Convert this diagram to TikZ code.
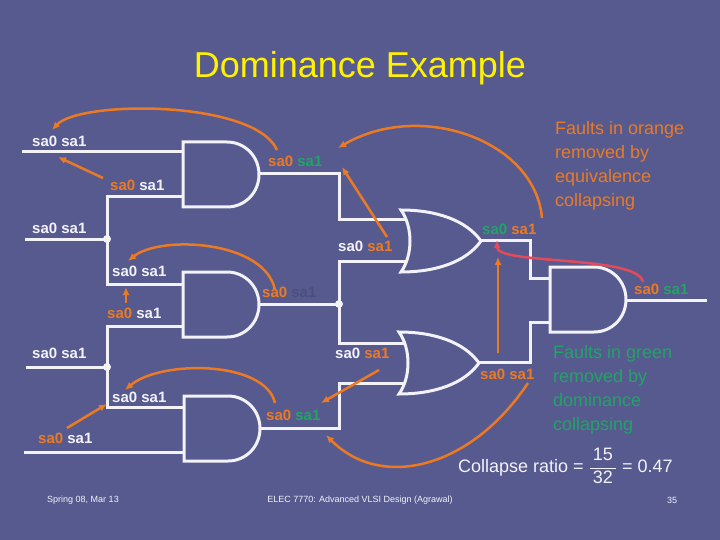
\documentclass[tikz,border=0pt]{standalone}
\usepackage{fontspec}
\setmainfont{Liberation Sans}
\usetikzlibrary{arrows.meta}
\definecolor{bg}{HTML}{575A8F}
\definecolor{org}{HTML}{EC7A22}
\definecolor{grn}{HTML}{1FA564}
\definecolor{dk}{HTML}{4C4E7E}
\definecolor{wire}{HTML}{F2F2F8}
\definecolor{rd}{HTML}{E34A5A}
\newcommand\andgate[2]{\path[gate,shift={(#1,#2)}] (0,0) -- (44,0) .. controls (62,0) and (76,14.5) .. (76,32.5) .. controls (76,50.5) and (62,65) .. (44,65) -- (0,65) -- cycle;}
\newcommand\orgate[2]{\path[gate,shift={(#1,#2)}] (0,0) .. controls (35,0) and (65,10) .. (80,31) .. controls (65,52) and (35,62) .. (0,62) .. controls (12,45) and (12,17) .. (0,0) -- cycle;}
\begin{document}
\begin{tikzpicture}[x=1pt,y=-1pt,
  wr/.style={wire,line width=3pt},
  ar/.style={org,line width=2.5pt,-{Latex[length=8pt,width=7pt]}},
  lab/.style={anchor=west,inner sep=0pt,font=\fontsize{15}{15}\selectfont\bfseries},
  gate/.style={draw=wire,line width=3pt,fill=bg}
]
\fill[bg] (0,0) rectangle (720,540);
\useasboundingbox (0,0) rectangle (720,540);
\node[yellow,font=\fontsize{36}{36}\selectfont] (title) at (360,68) {Dominance Example};
% wires
\draw[wr] (22,152)--(183,152);
\draw[wr] (25,239)--(107,239);
\draw[wr] (183,197)--(107,197)--(107,284)--(183,284);
\draw[wr] (26,367)--(107,367);
\draw[wr] (183,326)--(107,326)--(107,407)--(184,407);
\draw[wr] (24,452)--(184,452);
\draw[wr] (258,174)--(339,174)--(339,220)--(410,220);
\draw[wr] (258,304)--(339,304);
\draw[wr] (410,261)--(339,261)--(339,343)--(410,343);
\draw[wr] (259,428)--(339,428)--(339,383)--(410,383);
\draw[wr] (480,240)--(530,240)--(530,278)--(549,278);
\draw[wr] (477,362)--(530,362)--(530,322)--(549,322);
\draw[wr] (627,300)--(707,300);
\fill[wire] (107,239) circle (4) (107,367) circle (4) (339,304) circle (4);
% gates
\andgate{183}{142}
\andgate{183}{272}
\andgate{184}{396}
\andgate{550}{267}
\orgate{401}{210}
\orgate{399}{332}
% labels
\node[lab] (l1) at (32,141) {\color{wire}sa0 sa1};
\node[lab] (l2) at (110,185) {\color{org}sa0 \color{wire}sa1};
\node[lab] (l3) at (268,161) {\color{org}sa0 \color{grn}sa1};
\node[lab] (l4) at (32,228) {\color{wire}sa0 sa1};
\node[lab] (l5) at (112,271) {\color{wire}sa0 sa1};
\node[lab] (l6) at (107,313) {\color{org}sa0 \color{wire}sa1};
\node[lab] (l7) at (262,292) {\color{org}sa0 \color{dk}sa1};
\node[lab] (l8) at (338,246) {\color{wire}sa0 \color{org}sa1};
\node[lab] (l9) at (482,229) {\color{grn}sa0 \color{org}sa1};
\node[lab] (l10) at (634,289) {\color{org}sa0 \color{grn}sa1};
\node[lab] (l11) at (32,353) {\color{wire}sa0 sa1};
\node[lab] (l12) at (112,397) {\color{wire}sa0 sa1};
\node[lab] (l13) at (38,438) {\color{org}sa0 \color{wire}sa1};
\node[lab] (l14) at (266,415) {\color{org}sa0 \color{grn}sa1};
\node[lab] (l15) at (335,353) {\color{wire}sa0 \color{org}sa1};
\node[lab] (l16) at (480,374) {\color{org}sa0 sa1};
% arrows
\draw[ar] (277,150) .. controls (255,100) and (80,100) .. (52,130);
\draw[ar] (103,178) -- (58,157);
\draw[ar] (542,218) .. controls (535,140) and (420,100) .. (338,148);
\draw[ar] (387,237) -- (342,167);
\draw[ar] (275,290) .. controls (265,240) and (160,235) .. (128,261);
\draw[ar] (126,303) -- (126,287);
\draw[ar] (275,403) .. controls (265,360) and (160,360) .. (125,390);
\draw[ar] (67,428) -- (107,404);
\draw[ar] (379,370) -- (321,403);
\draw[ar] (528,383) .. controls (470,470) and (380,490) .. (326,435);
\draw[ar] (498,353) -- (498,257);
\draw[ar,rd] (643,282) .. controls (638,255) and (497,265) .. (497,240);
% texts
\node[org,anchor=north west,align=left,inner sep=0pt,font=\fontsize{18}{24}\selectfont] (t1) at (555,121) {Faults in orange\\removed by\\equivalence\\collapsing};
\node[grn,anchor=north west,align=left,inner sep=0pt,font=\fontsize{18}{24}\selectfont] (t2) at (553,345) {Faults in green\\removed by\\dominance\\collapsing};
\node[wire,anchor=west,inner sep=0pt,font=\fontsize{18}{18}\selectfont] (cr) at (458,466) {Collapse ratio = $\displaystyle\frac{\hbox{\,15\,}}{\hbox{\,32\,}}$ = 0.47};
\node[wire,font=\fontsize{9}{9}\selectfont] (f1) at (83,500) {Spring 08, Mar 13};
\node[wire,font=\fontsize{9}{9}\selectfont] (f2) at (360,500) {ELEC 7770: Advanced VLSI Design (Agrawal)};
\node[wire,font=\fontsize{9}{9}\selectfont] (f3) at (672,500) {35};
\end{tikzpicture}
\end{document}
